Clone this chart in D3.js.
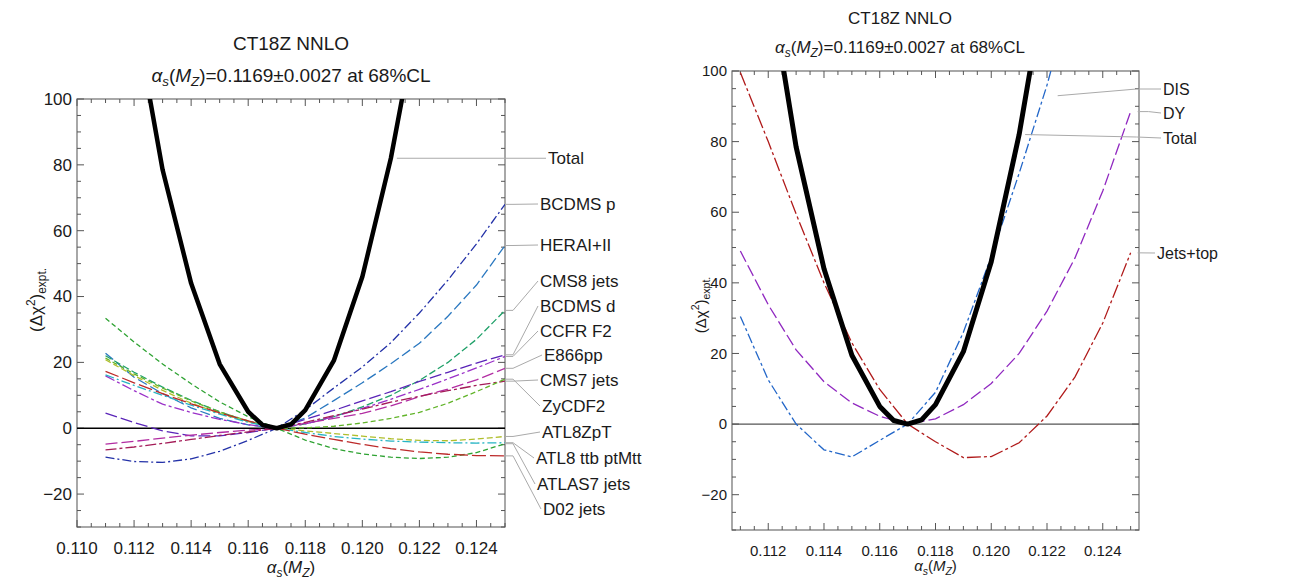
<!DOCTYPE html>
<html><head><meta charset="utf-8">
<script src="https://cdn.jsdelivr.net/npm/d3@7"></script>
<style>
body{margin:0;background:#fff}
svg{display:block}
text{font-family:"Liberation Sans",Arial,Helvetica,sans-serif;fill:#1a1a1a}
</style>
</head><body>
<svg id="c" width="1291" height="580"></svg>
<script>
// ---------------- data ----------------
const alphaGrid = [0.111,0.112,0.113,0.114,0.115,0.116,0.117,0.118,0.119,0.120,0.121,0.122,0.123,0.124,0.125];
const totalAlpha = [0.111,0.112,0.113,0.114,0.115,0.116,0.1165,0.117,0.1175,0.118,0.119,0.120,0.121,0.122,0.123];
const totalChi2  = [185,127,78.5,44,19.5,5,1.0,0,1.2,5.5,20.5,46,82,128,180];

const leftNames = ["BCDMS p","HERAI+II","CMS8 jets","BCDMS d","CCFR F2","E866pp","CMS7 jets","ZyCDF2","ATL8ZpT","ATL8 ttb ptMtt","ATLAS7 jets","D02 jets"];
const bcdmsP   = [-8.8,-10.1,-10.4,-9.3,-7,-3.7,0,5.6,12.2,18.6,26,35,45,56,68];
const herai    = [22.8,15.5,10.5,6.2,3,1,0,3.1,8.4,13.8,19.6,25.8,34,43.5,55.5];
const cms8     = [22,17,12.5,8.5,5,2,0,1.3,3.5,6.5,10,14.5,20,27,35.8];
const bcdmsD   = [4.6,1.7,-0.8,-2.3,-2.3,-1.3,0,2.7,5.4,8.3,11.1,14.2,17,19.8,22.3];
const ccfr     = [15.9,11.4,7.3,4.8,2.7,1.1,0,1.3,3.5,6,8.8,11.8,15,18.3,21.8];
const e866     = [-4.8,-4,-3,-2.1,-1.3,-0.6,0,1.5,3,4.5,6.8,9.6,11.9,14.7,18.2];
const cms7     = [-6.6,-5.7,-4.6,-3.4,-2.2,-1.1,0,1.8,3.8,5.8,7.9,9.7,11.4,13,14.3];
const zycdf2   = [21.3,16.5,12.2,8.3,5,2.2,0,0.1,0.6,1.6,3,4.8,7.6,11.1,14.9];
const atl8zpt  = [20.8,16,11.5,7.6,4.5,2,0,-0.8,-1.6,-2.4,-3.2,-3.7,-3.8,-3.3,-2.5];
const atl8ttb  = [16.2,13,10,7,4.3,1.8,0,-1.3,-2.5,-3.3,-3.9,-4.2,-4.4,-4.5,-4.4];
const atlas7   = [33.4,26.2,19.5,13.5,8,3.5,0,-3.6,-6.2,-7.8,-8.8,-9.2,-8.8,-7.4,-4.7];
const d02      = [17.3,13.8,10.5,7.4,4.7,2.2,0,-1.8,-3.4,-4.9,-6.2,-7.2,-7.9,-8.3,-8.4];
const leftSeries = [bcdmsP,herai,cms8,bcdmsD,ccfr,e866,cms7,zycdf2,atl8zpt,atl8ttb,atlas7,d02];

const rightNames = ["DIS","DY","Jets+top"];
const dis      = [30.5,12.5,0,-7.3,-9.3,-4.6,0,9,26,47.5,71,96,125,158,195];
const dy       = [49,33.8,21,12,6,2.2,0,1.5,5.5,11.5,20,32,47,66,88.5];
const jetsTop  = [99.6,80,59.5,40,23,9.8,0,-5,-9.5,-9.2,-5.3,2.3,13.3,28.6,48.5];
const rightSeries = [dis,dy,jetsTop];

const xTicksMajor = [0.110,0.112,0.114,0.116,0.118,0.120,0.122,0.124];
const yTicksMajor = [-20,0,20,40,60,80,100];

// ---------------- styles ----------------
const leftColors = ["#2432a8","#2a78c0","#1ea068","#5a24b8","#9a30c8","#b22ca2","#a41c58","#62b42a","#b0be2c","#26b4c4","#2ea232","#bc2a2a"];
const leftDash   = ["9,3,2,3","10,4","7,3","12,4","10,3,3,3","12,4","11,3,3,3","5,3","6,3","9,3,2,3","5,3","14,4"];
const rightColors = ["#2266c8","#9028c0","#b01a1a"];
const rightDash   = ["10,3,3,3","12,4","14,3,3,3"];

const svg = d3.select("#c");
const fmtY = v => v < 0 ? "\u2212" + Math.abs(v) : String(v);

function drawPanel(cfg){
  const x = d3.scaleLinear().domain(cfg.xDomain).range([cfg.x0, cfg.x1]);
  const y = d3.scaleLinear().domain([-30,100]).range([cfg.y1, cfg.y0]);
  const g = svg.append("g");
  const clipId = "clip" + cfg.id;
  svg.append("clipPath").attr("id", clipId).append("rect")
    .attr("x", cfg.x0).attr("y", cfg.y0).attr("width", cfg.x1-cfg.x0).attr("height", cfg.y1-cfg.y0);

  g.append("rect").attr("x",cfg.x0).attr("y",cfg.y0).attr("width",cfg.x1-cfg.x0).attr("height",cfg.y1-cfg.y0)
    .attr("fill","none").attr("stroke","#6e6e6e").attr("stroke-width",1.2);

  const tk = g.append("g").attr("stroke","#555").attr("stroke-width",1);
  const xMinor = d3.range(0.110, 0.12551, 0.0005).filter(v => v >= cfg.xDomain[0]-1e-9 && v <= cfg.xDomain[1]+1e-9);
  xMinor.forEach(v => {
    const major = xTicksMajor.some(m => Math.abs(m-v) < 1e-7);
    const L = major ? 7 : 4;
    tk.append("line").attr("x1",x(v)).attr("x2",x(v)).attr("y1",cfg.y1).attr("y2",cfg.y1-L);
    tk.append("line").attr("x1",x(v)).attr("x2",x(v)).attr("y1",cfg.y0).attr("y2",cfg.y0+L);
  });
  d3.range(-30, 100.01, 5).forEach(v => {
    const major = yTicksMajor.includes(v);
    const L = major ? 7 : 4;
    tk.append("line").attr("x1",cfg.x0).attr("x2",cfg.x0+L).attr("y1",y(v)).attr("y2",y(v));
    tk.append("line").attr("x1",cfg.x1).attr("x2",cfg.x1-L).attr("y1",y(v)).attr("y2",y(v));
  });

  xTicksMajor.filter(v => v >= cfg.xDomain[0] && v <= cfg.xDomain[1]).forEach(v => {
    g.append("text").attr("x",x(v)).attr("y",cfg.y1+cfg.xTickDy).attr("text-anchor","middle")
      .attr("font-size",cfg.tickFs).text(v.toFixed(3));
  });
  yTicksMajor.forEach(v => {
    g.append("text").attr("x",cfg.x0-5).attr("y",y(v)).attr("dy","0.35em").attr("text-anchor","end")
      .attr("font-size",cfg.tickFs).text(fmtY(v));
  });

  g.append("line").attr("x1",cfg.x0).attr("x2",cfg.x1).attr("y1",y(0)).attr("y2",y(0))
    .attr("stroke",cfg.zeroColor).attr("stroke-width",1.3);

  const plot = g.append("g").attr("clip-path",`url(#${clipId})`);
  const line = d3.line().x(d => x(d[0])).y(d => y(d[1]));
  cfg.series.forEach((s,i) => {
    plot.append("path").attr("d", line(alphaGrid.map((a,j)=>[a,s[j]])))
      .attr("fill","none").attr("stroke",cfg.colors[i]).attr("stroke-width",1.3)
      .attr("stroke-dasharray",cfg.dash[i]);
  });
  plot.append("path").attr("d", line(totalAlpha.map((a,j)=>[a,totalChi2[j]])))
    .attr("fill","none").attr("stroke","#000").attr("stroke-width",cfg.totalW).attr("stroke-linejoin","round");

  g.append("text").attr("x",cfg.titleX).attr("y",cfg.t1y).attr("text-anchor","middle").attr("font-size",cfg.titleFs).text("CT18Z NNLO");
  const t2 = g.append("text").attr("x",cfg.titleX).attr("y",cfg.t2y).attr("text-anchor","middle").attr("font-size",cfg.titleFs);
  const sub = cfg.titleFs*0.7;
  t2.append("tspan").attr("font-style","italic").text("\u03b1");
  t2.append("tspan").attr("font-style","italic").attr("font-size",sub).attr("dy",4).text("s");
  t2.append("tspan").attr("dy",-4).text("(");
  t2.append("tspan").attr("font-style","italic").text("M");
  t2.append("tspan").attr("font-style","italic").attr("font-size",sub).attr("dy",4).text("Z");
  t2.append("tspan").attr("dy",-4).text(")=0.1169\u00b10.0027 at 68%CL");

  const xl = g.append("text").attr("x",(cfg.x0+cfg.x1)/2).attr("y",cfg.xLabY).attr("text-anchor","middle").attr("font-size",cfg.labFs);
  const s2 = cfg.labFs*0.7;
  xl.append("tspan").attr("font-style","italic").text("\u03b1");
  xl.append("tspan").attr("font-style","italic").attr("font-size",s2).attr("dy",4).text("s");
  xl.append("tspan").attr("dy",-4).text("(");
  xl.append("tspan").attr("font-style","italic").text("M");
  xl.append("tspan").attr("font-style","italic").attr("font-size",s2).attr("dy",4).text("Z");
  xl.append("tspan").attr("dy",-4).text(")");

  const yl = g.append("text").attr("transform",`translate(${cfg.yLabX},${cfg.yLabY}) rotate(-90)`)
    .attr("text-anchor","middle").attr("font-size",cfg.labFs);
  yl.append("tspan").text("(\u0394\u03c7");
  yl.append("tspan").attr("font-size",s2).attr("dy",-7).text("2");
  yl.append("tspan").attr("dy",7).text(")");
  yl.append("tspan").attr("font-size",s2).attr("dy",4).text("expt.");

  return {x,y,g};
}

// ---------------- left panel ----------------
const L = drawPanel({id:"L", xDomain:[0.110,0.125], x0:77, x1:505, y0:99, y1:527,
  series:leftSeries, colors:leftColors, dash:leftDash, totalW:4.5, zeroColor:"#000",
  tickFs:17, xTickDy:27, titleFs:19, labFs:17, titleX:291, t1y:50, t2y:82, xLabY:573, yLabX:42, yLabY:300});

const lead = L.g.append("g").attr("fill","none").attr("stroke","#aaa").attr("stroke-width",1);
const leftLabelY = [204,245,281,306,331,355,380,406,432,458,484,509];
const leftLabelX = [540,540,540,540,540,544,540,542,542,536,537,543];
leftNames.forEach((n,i) => {
  const s = leftSeries[i];
  const ex = L.x(alphaGrid[alphaGrid.length-1]), ey = L.y(s[s.length-1]);
  lead.append("polyline").attr("points",`${ex},${ey} ${ex+8},${ey} ${leftLabelX[i]-2},${leftLabelY[i]}`);
  L.g.append("text").attr("x",leftLabelX[i]).attr("y",leftLabelY[i]).attr("dy","0.35em").attr("font-size",17).text(n);
});
{
  const k = totalAlpha.indexOf(0.121);
  const ax = L.x(totalAlpha[k])+6, ay = L.y(totalChi2[k]);
  lead.append("polyline").attr("points",`${ax},${ay} ${546},${ay}`);
  L.g.append("text").attr("x",548).attr("y",ay).attr("dy","0.35em").attr("font-size",17).text("Total");
}

// ---------------- right panel ----------------
const R = drawPanel({id:"R", xDomain:[0.1107,0.1253], x0:732, x1:1139, y0:71, y1:530,
  series:rightSeries, colors:rightColors, dash:rightDash, totalW:5, zeroColor:"#555",
  tickFs:15, xTickDy:26, titleFs:17, labFs:15, titleX:900, t1y:24, t2y:53, xLabY:571, yLabX:706, yLabY:305});

const leadR = R.g.append("g").attr("fill","none").attr("stroke","#aaa").attr("stroke-width",1);
const rightLabelY = [89,113,138,253];
{
  const a = d3.scaleLinear().domain([dis[10],dis[11]]).range([0.121,0.122])(93);
  const ax = R.x(a)+14, ay = R.y(93);
  leadR.append("polyline").attr("points",`${ax},${ay} ${R.x(0.125)+6},${rightLabelY[0]} ${1161},${rightLabelY[0]}`);
  R.g.append("text").attr("x",1163).attr("y",rightLabelY[0]).attr("dy","0.35em").attr("font-size",16).text("DIS");
}
{
  const ex = R.x(0.125)+7, ey = R.y(dy[dy.length-1]);
  leadR.append("polyline").attr("points",`${ex},${ey} ${ex+11},${ey} ${1161},${rightLabelY[1]}`);
  R.g.append("text").attr("x",1163).attr("y",rightLabelY[1]).attr("dy","0.35em").attr("font-size",16).text("DY");
}
{
  const k = totalAlpha.indexOf(0.121);
  const ax = R.x(totalAlpha[k])+6, ay = R.y(totalChi2[k]);
  leadR.append("polyline").attr("points",`${ax},${ay} ${R.x(0.125)+6},${rightLabelY[2]-1} ${1161},${rightLabelY[2]}`);
  R.g.append("text").attr("x",1163).attr("y",rightLabelY[2]).attr("dy","0.35em").attr("font-size",16).text("Total");
}
{
  const ex = R.x(0.125)+7, ey = R.y(jetsTop[jetsTop.length-1]);
  leadR.append("polyline").attr("points",`${ex},${ey} ${1155},${rightLabelY[3]}`);
  R.g.append("text").attr("x",1157).attr("y",rightLabelY[3]).attr("dy","0.35em").attr("font-size",16).text("Jets+top");
}
</script>
</body></html>
